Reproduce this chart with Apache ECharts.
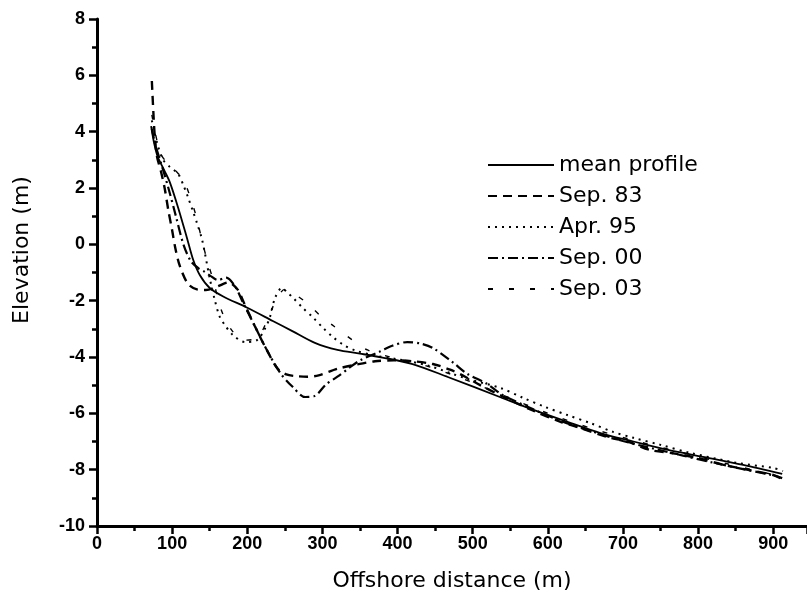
<!DOCTYPE html>
<html>
<head>
<meta charset="utf-8">
<script src="https://cdn.jsdelivr.net/npm/echarts@6/dist/echarts.min.js"></script>
<style>
html,body{margin:0;padding:0;background:#fff;}
#chart{width:807px;height:609px;}
</style>
</head>
<body>
<div id="chart"></div>
<script>
var seriesNames = ["mean profile", "Sep. 83", "Apr. 95", "Sep. 00", "Sep. 03"];
var xTicks = [0, 100, 200, 300, 400, 500, 600, 700, 800, 900];
var yTicks = [-10, -8, -6, -4, -2, 0, 2, 4, 6, 8];

var meanProfile = [[72,4.2],[76,3.6],[81,3.1],[90,2.6],[97,2.2],[108,1.3],[120,0.2],[128,-0.55],[137,-1.1],[150,-1.55],[168,-1.85],[200,-2.25],[234,-2.72],[260,-3.08],[290,-3.5],[320,-3.75],[350,-3.88],[380,-4.02],[420,-4.25],[466,-4.7],[537,-5.43],[581,-5.88],[626,-6.3],[670,-6.7],[714,-7.0],[760,-7.3],[812,-7.57],[860,-7.83],[912,-8.15]];

var sep83 = [[73,5.8],[75,4.7],[77,3.8],[80,3.1],[85,2.6],[90,2.0],[95,1.2],[100,0.5],[104,-0.1],[110,-0.75],[121,-1.4],[133,-1.6],[145,-1.62],[160,-1.5],[175,-1.35],[187,-1.6],[196,-2.1],[210,-2.9],[225,-3.7],[240,-4.4],[252,-4.62],[265,-4.68],[280,-4.7],[295,-4.65],[320,-4.42],[345,-4.27],[370,-4.15],[395,-4.12],[420,-4.15],[447,-4.25],[470,-4.45],[490,-4.7],[510,-5.0],[540,-5.4],[580,-5.9],[617,-6.3],[643,-6.52],[680,-6.85],[706,-7.0],[736,-7.3],[767,-7.42],[799,-7.58],[834,-7.83],[865,-8.0],[900,-8.19],[913,-8.35]];

var apr95 = [[73,4.4],[80,3.6],[88,3.0],[97,2.75],[108,2.5],[115,2.1],[121,1.68],[128,1.15],[133,0.76],[140,0.15],[150,-1.2],[157,-2.0],[163,-2.55],[170,-2.86],[181,-3.22],[197,-3.47],[213,-3.4],[224,-2.97],[230,-2.6],[237,-1.9],[246,-1.55],[253,-1.7],[261,-1.9],[274,-2.26],[288,-2.61],[301,-2.97],[314,-3.29],[328,-3.57],[345,-3.78],[370,-3.95],[400,-4.08],[440,-4.3],[490,-4.75],[537,-5.1],[567,-5.45],[596,-5.77],[626,-6.06],[656,-6.34],[687,-6.66],[714,-6.87],[750,-7.12],[789,-7.4],[852,-7.76],[900,-7.94],[913,-8.05]];

var sep00 = [[73,4.1],[78,3.5],[85,2.9],[95,2.0],[105,1.0],[115,0.0],[125,-0.6],[135,-0.85],[143,-0.97],[150,-1.1],[161,-1.27],[172,-1.18],[184,-1.5],[194,-2.05],[210,-2.9],[225,-3.7],[244,-4.57],[260,-5.05],[277,-5.42],[290,-5.38],[305,-4.97],[320,-4.7],[335,-4.4],[350,-4.12],[377,-3.8],[393,-3.6],[413,-3.47],[430,-3.52],[447,-3.68],[474,-4.2],[493,-4.6],[519,-4.95],[540,-5.35],[580,-5.85],[620,-6.3],[660,-6.65],[700,-6.98],[740,-7.25],[780,-7.5],[820,-7.75],[860,-7.98],[900,-8.2],[912,-8.3]];

var sep03 = [[73,4.6],[78,3.9],[85,3.2],[95,2.85],[105,2.6],[115,2.3],[125,1.6],[133,0.9],[140,0.1],[147,-0.6],[155,-1.3],[165,-2.3],[178,-3.0],[195,-3.4],[212,-3.35],[225,-2.8],[238,-2.0],[250,-1.6],[262,-1.75],[280,-2.1],[300,-2.6],[315,-2.9],[330,-3.2],[340,-3.4],[360,-3.75],[390,-4.0],[430,-4.25],[480,-4.7],[540,-5.35],[600,-6.0],[660,-6.55],[720,-7.0],[780,-7.4],[840,-7.8],[912,-8.25]];

var chart = echarts.init(document.getElementById('chart'), null, {renderer: 'canvas'});

function mk(name, data, width, dash, sm) {
  return {
    name: name, type: 'line', data: data, symbol: 'none', showSymbol: false,
    smooth: sm,
    lineStyle: {color: '#000', width: width, type: dash},
    itemStyle: {color: '#000'},
    animation: false
  };
}

var tickFont = {fontFamily: 'Liberation Sans', fontWeight: 'bold', fontSize: 18, color: '#000'};

chart.setOption({
  backgroundColor: '#fff',
  animation: false,
  grid: {left: 97, top: 19, right: 0, bottom: 83, containLabel: false},
  graphic: [{
    type: 'text',
    x: 22, y: 250,
    rotation: Math.PI / 2,
    style: {text: 'Elevation (m)', fontFamily: 'DejaVu Sans', fontSize: 22, fill: '#000', align: 'center', verticalAlign: 'middle'}
  }],
  xAxis: {
    type: 'value', min: xTicks[0], max: 945, interval: 100,
    name: 'Offshore distance (m)', nameLocation: 'middle', nameGap: 44,
    nameTextStyle: {fontFamily: 'DejaVu Sans', fontSize: 22, color: '#000'},
    axisLine: {show: true, onZero: false, lineStyle: {color: '#000', width: 3}},
    axisTick: {show: true, length: 8, lineStyle: {color: '#000', width: 2.5}},
    minorTick: {show: true, splitNumber: 2, length: 5, lineStyle: {color: '#000', width: 2.5}},
    axisLabel: Object.assign({margin: 9, showMaxLabel: false, formatter: function(v){ return xTicks.indexOf(v) >= 0 ? String(v) : ''; }}, tickFont),
    splitLine: {show: false}, minorSplitLine: {show: false}
  },
  yAxis: {
    type: 'value', min: yTicks[0], max: yTicks[yTicks.length-1], interval: 2,
    axisLine: {show: true, onZero: false, lineStyle: {color: '#000', width: 3}},
    axisTick: {show: true, length: 8, lineStyle: {color: '#000', width: 2.5}},
    minorTick: {show: true, splitNumber: 2, length: 5, lineStyle: {color: '#000', width: 2.5}},
    axisLabel: Object.assign({margin: 12}, tickFont),
    splitLine: {show: false}, minorSplitLine: {show: false}
  },
  legend: {
    orient: 'vertical', left: 482, top: 148,
    itemWidth: 66, itemHeight: 14, itemGap: 7,
    itemStyle: {opacity: 0},
    textStyle: {fontFamily: 'DejaVu Sans', fontSize: 22, color: '#000', lineHeight: 24},
    data: seriesNames
  },
  series: [
    mk(seriesNames[0], meanProfile, 1.8, 'solid', 0.3),
    mk(seriesNames[1], sep83, 2.4, [9, 6], 0.3),
    mk(seriesNames[2], apr95, 2, [2, 5], 0.3),
    mk(seriesNames[3], sep00, 2.2, [10, 4, 2, 4], 0.3),
    mk(seriesNames[4], sep03, 1.4, [5, 16], 0.3)
  ]
});
</script>
</body>
</html>
